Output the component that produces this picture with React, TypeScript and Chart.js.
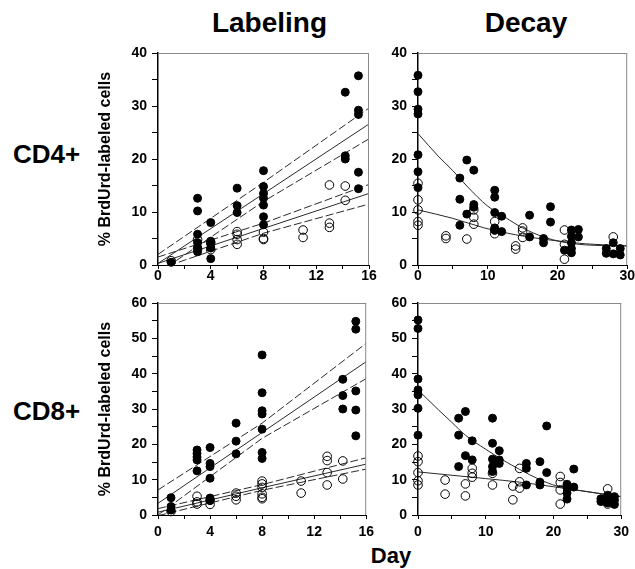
import React, { useEffect, useRef } from 'react';
import { Chart, registerables } from 'chart.js';

Chart.register(...registerables);

type P = [number, number];

// ---------- CD4+ Labeling (day, % labeled) ----------
const cd4LabFilled: P[] = [
  [1, 0.5],
  [3, 12.6], [3, 10.2], [3, 5.8], [3, 4.2], [3, 3.3], [3, 2.5],
  [4, 8.0], [4, 4.5], [4, 3.9], [4, 3.2], [4, 1.2],
  [6, 14.5], [6, 11.2], [6, 9.9],
  [8, 17.8], [8, 14.8], [8, 13.5], [8, 12.6], [8, 11.3], [8, 9.1], [8, 7.6],
  [14.2, 32.6], [14.2, 20.6], [14.2, 20.0],
  [15.2, 35.7], [15.2, 29.2], [15.2, 28.4], [15.2, 17.5], [15.2, 14.4],
];
const cd4LabOpen: P[] = [
  [1, 0.8], [3, 4.8], [3, 3.0], [4, 4.2], [4, 2.9],
  [6, 6.3], [6, 5.8], [6, 4.8], [6, 3.9],
  [8, 6.2], [8, 5.0], [8, 4.8],
  [11, 6.6], [11, 5.2],
  [13, 15.1], [13, 7.9], [13, 7.1],
  [14.2, 14.9], [14.2, 12.2],
];
const cd4LabFilledFit: P[] = [[0, 0.3], [16, 26.6]];
const cd4LabFilledUpper: P[] = [[0, 2.0], [8, 15.6], [16, 29.6]];
const cd4LabFilledLower: P[] = [[0, -1.5], [8, 12.0], [16, 23.8]];
const cd4LabOpenFit: P[] = [[0, 0.3], [16, 13.5]];
const cd4LabOpenUpper: P[] = [[0, 1.5], [8, 7.9], [16, 15.2]];
const cd4LabOpenLower: P[] = [[0, -0.8], [8, 6.0], [16, 11.5]];

// ---------- CD4+ Decay ----------
const cd4DecFilled: P[] = [
  [0, 35.8], [0, 32.7], [0, 29.4], [0, 28.5], [0, 20.8], [0, 17.6], [0, 14.6],
  [6, 16.4], [6, 12.4], [6, 7.5],
  [7, 19.8], [7, 9.6],
  [8, 17.9], [8, 11.4], [8, 10.9],
  [11, 14.1], [11, 12.8], [11, 9.9], [11, 7.0], [11, 6.6],
  [12, 9.2], [12, 6.3],
  [16, 9.4], [16, 5.3],
  [18, 5.0], [18, 4.2],
  [19, 11.0], [19, 8.1],
  [21, 2.8],
  [22, 6.6], [22, 5.4], [22, 4.2], [22, 3.1], [22, 2.3],
  [23, 6.7], [23, 5.3],
  [27, 3.1], [27, 2.2], [28, 4.2], [28, 2.1], [29, 3.1], [29, 1.9],
];
const cd4DecOpen: P[] = [
  [0, 15.4], [0, 12.3], [0, 10.4], [0, 8.2], [0, 7.5],
  [4, 5.5], [4, 5.0],
  [7, 4.9],
  [8, 10.4], [8, 9.0], [8, 7.7],
  [11, 8.2], [11, 6.6], [11, 5.9],
  [14, 3.6], [14, 3.0],
  [15, 7.0], [15, 6.4], [15, 5.2],
  [21, 6.6], [21, 3.9], [21, 1.1],
  [28, 5.3],
];
const cd4DecFilledFit: P[] = [
  [0, 24.8], [3, 20.4], [5, 17.8], [7, 14.9], [10, 11.1], [12.5, 9.0],
  [15, 7.0], [18, 5.3], [20.5, 4.4], [24, 3.8], [30, 3.6],
];
const cd4DecOpenFit: P[] = [
  [0, 10.4], [5, 8.8], [9.5, 7.0], [14, 5.7], [19, 4.7], [24, 4.0], [30, 3.6],
];

// ---------- CD8+ Labeling ----------
const cd8LabFilled: P[] = [
  [1, 4.9], [1, 2.4], [1, 1.4],
  [3, 18.4], [3, 17.4], [3, 16.4], [3, 15.6], [3, 12.5],
  [4, 19.1], [4, 14.6], [4, 13.7], [4, 10.4], [4, 4.8], [4, 4.1],
  [6, 26.0], [6, 20.9], [6, 17.3],
  [8, 45.3], [8, 34.6], [8, 29.5], [8, 28.6], [8, 24.3], [8, 17.7], [8, 16.0],
  [14.2, 38.4], [14.2, 33.8], [14.2, 30.0],
  [15.2, 54.8], [15.2, 52.6], [15.2, 35.1], [15.2, 29.7], [15.2, 22.4],
];
const cd8LabOpen: P[] = [
  [1, 1.0],
  [3, 5.3], [3, 3.7], [3, 3.1],
  [4, 4.2], [4, 3.0],
  [6, 6.2], [6, 5.3], [6, 4.3],
  [8, 9.6], [8, 8.8], [8, 7.8], [8, 6.0], [8, 5.0], [8, 4.6],
  [11, 9.6], [11, 6.2],
  [13, 16.6], [13, 15.4], [13, 12.0], [13, 8.5],
  [14.2, 15.3], [14.2, 10.2],
];
const cd8LabFilledFit: P[] = [[0, 3.3], [16, 43.4]];
const cd8LabFilledUpper: P[] = [[0, 7.1], [8, 26.0], [16, 48.6]];
const cd8LabFilledLower: P[] = [[0, 0.0], [8, 21.7], [16, 38.6]];
const cd8LabOpenFit: P[] = [[0, 0.8], [8, 7.7], [16, 14.4]];
const cd8LabOpenUpper: P[] = [[0, 1.8], [8, 8.6], [16, 16.2]];
const cd8LabOpenLower: P[] = [[0, -0.2], [8, 7.0], [16, 13.0]];

// ---------- CD8+ Decay ----------
const cd8DecFilled: P[] = [
  [0, 55.2], [0, 52.8], [0, 38.5], [0, 35.4], [0, 34.0], [0, 30.2], [0, 22.6],
  [6, 27.4], [6, 22.6], [6, 13.7],
  [7, 29.3], [7, 16.8],
  [8, 21.0], [8, 15.6],
  [11, 27.4], [11, 20.3], [11, 15.8], [11, 13.7], [11, 12.3],
  [12, 18.2], [12, 15.6], [12, 14.6],
  [16, 14.6], [16, 13.2], [16, 8.5],
  [18, 15.1], [18, 9.3], [18, 8.5],
  [19, 25.2], [19, 12.0],
  [22, 8.7], [22, 7.6], [22, 6.2], [22, 4.5],
  [23, 13.0], [23, 7.9],
  [27, 4.6], [27, 3.8], [28, 5.6], [28, 4.4], [28, 3.4], [29, 5.2], [29, 4.2], [29, 3.0],
];
const cd8DecOpen: P[] = [
  [0, 16.7], [0, 15.1], [0, 12.0], [0, 9.7], [0, 8.5],
  [4, 9.9], [4, 5.9],
  [7, 8.8], [7, 5.4],
  [8, 13.2], [8, 11.8], [8, 10.7],
  [11, 11.8], [11, 8.5],
  [14, 8.2], [14, 4.3],
  [15, 13.2], [15, 9.4], [15, 7.6],
  [21, 10.9], [21, 9.2], [21, 7.1], [21, 3.1],
  [28, 7.4], [28, 4.6], [28, 3.1],
];
const cd8DecFilledFit: P[] = [
  [0, 35.4], [3, 29.8], [5, 26.2], [7, 22.6], [10, 18.6], [12.5, 15.6],
  [15, 12.9], [18, 10.0], [20.5, 8.2], [24, 6.9], [30, 5.2],
];
const cd8DecOpenFit: P[] = [
  [0, 12.2], [10, 10.3], [15, 9.3], [20, 8.0], [25, 6.6], [30, 5.2],
];

// ---------- axis settings ----------
const labDays = { max: 16, step: 2, labelEvery: 4 };
const decDays = { max: 30, step: 5, labelEvery: 10 };
const cd4Y = { max: 40, step: 5, labelEvery: 10 };
const cd8Y = { max: 60, step: 5, labelEvery: 10 };
const yTitleText = '% BrdUrd-labeled cells';

const NARROW = "'Liberation Sans Narrow', 'Arial Narrow', 'Liberation Sans', Arial, sans-serif";
const SANS = "'Liberation Sans', Arial, Helvetica, sans-serif";

const framePlugin = {
  id: 'frame',
  afterDraw(chart: any) {
    const { ctx, chartArea: a } = chart;
    ctx.save();
    ctx.strokeStyle = '#8a8a8a';
    ctx.lineWidth = 1;
    ctx.beginPath();
    ctx.moveTo(a.left, a.top + 0.5);
    ctx.lineTo(a.right, a.top + 0.5);
    ctx.moveTo(a.right - 0.5, a.top);
    ctx.lineTo(a.right - 0.5, a.bottom);
    ctx.stroke();
    ctx.restore();
  },
};

type Line = { pts: P[]; dashed: boolean; smooth: boolean };

interface PanelProps {
  left: number; top: number; width: number; height: number;
  padTop: number; padRight: number; yWidth: number; xHeight: number;
  xLabelPad: number;
  xAxis: { max: number; step: number; labelEvery: number };
  yAxis: { max: number; step: number; labelEvery: number };
  filled: P[]; open: P[]; lines: Line[]; yTitle: boolean;
}

function Panel(p: PanelProps) {
  const ref = useRef<HTMLCanvasElement>(null);
  useEffect(() => {
    const toXY = (a: P[]) => a.map(([x, y]) => ({ x, y }));
    const datasets: any[] = [
      {
        data: toXY(p.filled), pointRadius: 4, pointBorderWidth: 1, clip: false,
        pointBackgroundColor: '#000', pointBorderColor: '#000', showLine: false,
      },
      {
        data: toXY(p.open), pointRadius: 4.3, pointBorderWidth: 1, clip: false,
        pointBackgroundColor: 'rgba(0,0,0,0)', pointBorderColor: '#000', showLine: false,
      },
      ...p.lines.map((l) => ({
        data: toXY(l.pts), showLine: true, pointRadius: 0, borderWidth: 1,
        borderColor: '#2a2a2a', borderDash: l.dashed ? [8, 3] : [],
        cubicInterpolationMode: l.smooth ? 'monotone' : 'default', fill: false,
      })),
    ];
    const tickFont = { family: NARROW, size: 14, weight: 'bold' as const, lineHeight: 1 };
    const chart = new Chart(ref.current!, {
      type: 'scatter',
      data: { datasets },
      plugins: [framePlugin],
      options: {
        animation: false,
        responsive: false,
        events: [],
        layout: { autoPadding: false, padding: { top: p.padTop, right: p.padRight, left: 0, bottom: 0 } },
        plugins: { legend: { display: false }, tooltip: { enabled: false } },
        scales: {
          x: {
            type: 'linear', min: 0, max: p.xAxis.max,
            afterFit: (s: any) => { s.height = p.xHeight; },
            ticks: {
              stepSize: p.xAxis.step, autoSkip: false, maxRotation: 0, padding: p.xLabelPad,
              color: '#000', font: tickFont,
              callback: (v: any) => (Number(v) % p.xAxis.labelEvery === 0 ? String(v) : ''),
            },
            grid: { drawOnChartArea: false, drawTicks: true, tickLength: 4, color: '#000' },
            border: { display: true, color: '#000', width: 1 },
          },
          y: {
            type: 'linear', min: 0, max: p.yAxis.max,
            afterFit: (s: any) => { s.width = p.yWidth; },
            ticks: {
              stepSize: p.yAxis.step, autoSkip: false, padding: 5,
              color: '#000', font: tickFont,
              callback: (v: any) => (Number(v) % p.yAxis.labelEvery === 0 ? String(v) : ''),
            },
            grid: { drawOnChartArea: false, drawTicks: true, tickLength: 6, color: '#000' },
            border: { display: true, color: '#000', width: 1.5 },
            title: {
              display: p.yTitle, text: yTitleText, color: '#000',
              font: { family: NARROW, size: 16, weight: 'bold', lineHeight: 1 },
              padding: { top: 2, bottom: 0 },
            },
          },
        },
      } as any,
    });
    return () => chart.destroy();
  }, []);
  return (
    <canvas
      ref={ref}
      width={p.width}
      height={p.height}
      style={{ position: 'absolute', left: p.left, top: p.top, width: p.width, height: p.height }}
    />
  );
}

const textStyle = (left: number, top: number, size: number, w: number, align: 'center' | 'left'): React.CSSProperties => ({
  position: 'absolute', left, top, width: w, textAlign: align, fontFamily: SANS,
  fontWeight: 'bold', fontSize: size, lineHeight: `${size}px`, color: '#000', whiteSpace: 'nowrap',
});

export default function App() {
  const labLines = (f: P[], fu: P[], fl: P[], o: P[], ou: P[], ol: P[]): Line[] => [
    { pts: f, dashed: false, smooth: false },
    { pts: fu, dashed: true, smooth: false },
    { pts: fl, dashed: true, smooth: false },
    { pts: o, dashed: false, smooth: false },
    { pts: ou, dashed: true, smooth: false },
    { pts: ol, dashed: true, smooth: false },
  ];
  return (
    <div style={{ position: 'absolute', left: 0, top: 0, width: 635, height: 569, background: '#fff', overflow: 'hidden' }}>
      <div style={textStyle(169.5, 9.3, 28, 200, 'center')}>Labeling</div>
      <div style={textStyle(426, 9.3, 28, 200, 'center')}>Decay</div>
      <div style={textStyle(13, 141, 26, 120, 'left')}>CD4+</div>
      <div style={textStyle(13, 398, 26, 120, 'left')}>CD8+</div>
      <div style={textStyle(291, 545, 22, 200, 'center')}>Day</div>

      <Panel left={96} top={40} width={284} height={260} padTop={13} padRight={11} yWidth={62} xHeight={35}
        xLabelPad={0} xAxis={labDays} yAxis={cd4Y} filled={cd4LabFilled} open={cd4LabOpen} yTitle={true}
        lines={labLines(cd4LabFilledFit, cd4LabFilledUpper, cd4LabFilledLower, cd4LabOpenFit, cd4LabOpenUpper, cd4LabOpenLower)} />
      <Panel left={356} top={40} width={279} height={260} padTop={13} padRight={6} yWidth={62} xHeight={35}
        xLabelPad={0} xAxis={decDays} yAxis={cd4Y} filled={cd4DecFilled} open={cd4DecOpen} yTitle={false}
        lines={[{ pts: cd4DecFilledFit, dashed: false, smooth: true }, { pts: cd4DecOpenFit, dashed: false, smooth: true }]} />
      <Panel left={96} top={290} width={284} height={260} padTop={13} padRight={11} yWidth={62} xHeight={35}
        xLabelPad={6} xAxis={labDays} yAxis={cd8Y} filled={cd8LabFilled} open={cd8LabOpen} yTitle={true}
        lines={labLines(cd8LabFilledFit, cd8LabFilledUpper, cd8LabFilledLower, cd8LabOpenFit, cd8LabOpenUpper, cd8LabOpenLower)} />
      <Panel left={356} top={290} width={279} height={260} padTop={13} padRight={6} yWidth={62} xHeight={35}
        xLabelPad={6} xAxis={decDays} yAxis={cd8Y} filled={cd8DecFilled} open={cd8DecOpen} yTitle={false}
        lines={[{ pts: cd8DecFilledFit, dashed: false, smooth: true }, { pts: cd8DecOpenFit, dashed: false, smooth: true }]} />
    </div>
  );
}
